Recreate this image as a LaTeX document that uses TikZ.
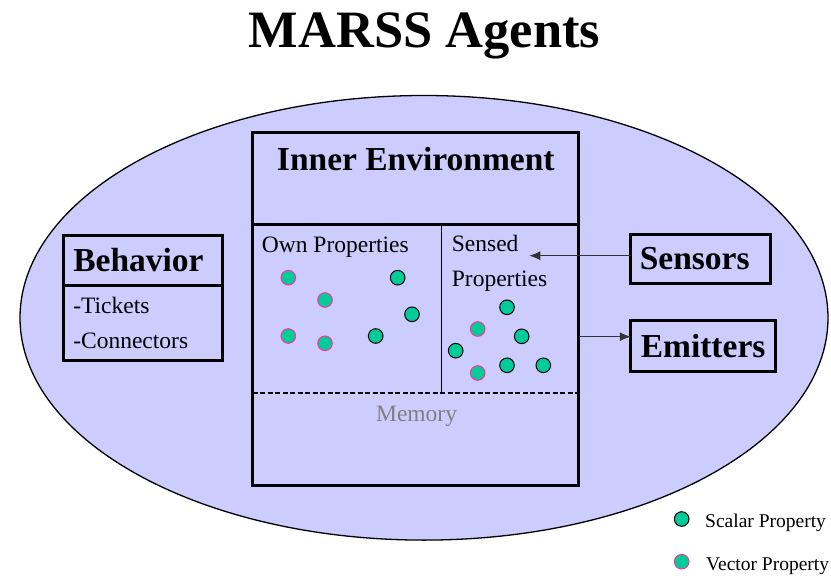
\documentclass[tikz,border=0pt]{standalone}
\usepackage{fontspec}
\setmainfont{Liberation Serif}
\usepackage{tikz}
\usetikzlibrary{positioning,arrows.meta}

\definecolor{agentfill}{RGB}{204,204,255}
\definecolor{propfill}{RGB}{0,204,153}
\definecolor{vecline}{RGB}{255,51,153}

\begin{document}
\begin{tikzpicture}[x=1pt,y=-1pt,
    box/.style={draw, line width=3pt, fill=agentfill, inner sep=0pt, outer sep=0pt},
    lbl/.style={font=\fontsize{33.5}{40}\selectfont\bfseries},
    txt/.style={font=\fontsize{23.5}{35}\selectfont, inner sep=0pt},
    keytxt/.style={font=\fontsize{19.5}{23}\selectfont, inner sep=0pt, anchor=base west},
    scalar/.style={circle, draw=black, line width=1pt, fill=propfill, minimum size=14.6pt, inner sep=0pt},
    vector/.style={scalar, draw=vecline},
    sig/.style={-{Latex[length=11pt,width=9pt]}, line width=1pt, draw=black!80}]

            \useasboundingbox (0,0) rectangle (831,576);

            \node[font=\fontsize{52.5}{60}\selectfont\bfseries, anchor=base] (title) at (424.5,47) {MARSS Agents};

            % the agent
            \draw[fill=agentfill, line width=1.3pt] (424,317.8) ellipse [x radius=404pt, y radius=222.3pt];

            % inner environment
            \node[box, minimum width=325.8pt, minimum height=91.7pt]                   (envtop)  at (415.6,178.15) {};
            \node[box, minimum width=325.8pt, minimum height=261pt, below=0pt of envtop] (envbody)                 {};
            \node[lbl, anchor=base]                                                      (envname) at (415.8,170)    {Inner Environment};

            \coordinate (divtop) at (441.3,224);
            \coordinate (divbot) at (441.3,392.7);
            \draw[line width=1pt] (divtop) -- (divbot);
            \draw[line width=2pt, dash pattern=on 5pt off 2.5pt] (envbody.west |- divbot) -- (envbody.east |- divbot);

            \node[txt, anchor=base west] (ownprops) at (261.7,252.3) {Own Properties};
            \node[txt, anchor=base west] (sensed)   at (451.7,251.7) {Sensed};
            \node[txt, anchor=base west] (sensprop) at (451.7,286)   {Properties};
            \node[txt, anchor=base, text=black!50] (memory) at (416.6,421) {Memory};

            % behavior, sensors, emitters
            \node[box, lbl, minimum width=159pt, minimum height=50.7pt, text width=139pt, inner xsep=10pt, align=left]
                                                              (behavior) at (142.8,260.4) {Behavior};
            \node[box, txt, minimum width=159pt, minimum height=74.3pt, text width=139pt, inner xsep=10pt, align=left,
                  below=0pt of behavior]                      (behlist)                   {-Tickets\\-Connectors};
            \node[box, lbl, minimum width=139.3pt, minimum height=49.3pt, text width=121.3pt, inner xsep=9pt, align=left]
                                                              (sensors)  at (700.4,258.7) {Sensors};
            \node[box, lbl, minimum width=144.3pt, minimum height=50.7pt, text width=124.3pt, inner xsep=10pt, align=left]
                                                              (emitters) at (702.9,346.3) {Emitters};

            \coordinate (sensedtip) at (529.3,255.7);
            \coordinate (emitfrom)  at (578.5,336.7);
            \draw[sig] (sensedtip -| sensors.west) -- (sensedtip);
            \draw[sig] (emitfrom) -- (emitfrom -| emitters.west);

            % properties
            \foreach \x/\y [count=\i] in {288.3/277.7, 325/300, 288.3/336, 325/343.3, 477.7/329, 477.7/373}
                \node[vector] (vec\i) at (\x,\y) {};
            \foreach \x/\y [count=\i] in {397.7/277.7, 412/314.3, 375.7/336, 507/307.3, 521.7/336.3,
                                          455.7/350.7, 507/365.3, 543.3/365.3}
                \node[scalar] (sca\i) at (\x,\y) {};

            % key
            \node[scalar] (keyscalar) at (681.7,519)   {};
            \node[vector] (keyvector) at (681.7,561.7) {};
            \node[keytxt] (keyscatxt) at (705,527.3)   {Scalar Property};
            \node[keytxt] (keyvectxt) at (706,570)     {Vector Property};
\end{tikzpicture}
\end{document}
